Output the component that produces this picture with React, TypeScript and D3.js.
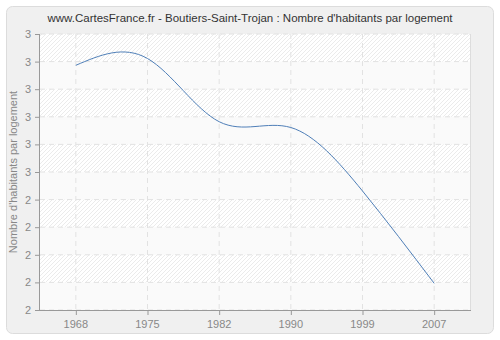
import React from "react";
import * as d3 from "d3";

const years = ["1968", "1975", "1982", "1990", "1999", "2007"];
const values = [2.8866, 2.9112, 2.6822, 2.6612, 2.4312, 2.0967];
const yDomain = [2, 3];
const yTickStep = 0.1;
const title = "www.CartesFrance.fr - Boutiers-Saint-Trojan : Nombre d'habitants par logement";
const yLabel = "Nombre d'habitants par logement";

const W = 500;
const H = 340;
const M = { left: 40, right: 30, top: 34, bottom: 30 };

export default function App() {
  const x = d3.scalePoint<string>().domain(years).range([M.left, W - M.right]).padding(0.5);
  const y = d3.scaleLinear().domain(yDomain).range([H - M.bottom, M.top]);
  const yTicks = d3.range(yDomain[0], yDomain[1] + yTickStep / 2, yTickStep).map((v) => +v.toFixed(2));
  const line = d3
    .line<number>()
    .x((_, i) => x(years[i]) as number)
    .y((d) => y(d))
    .curve(d3.curveNatural);
  const font = "'Liberation Sans', Arial, sans-serif";
  const x0 = M.left;
  const x1 = W - M.right;
  const yTop = M.top;
  const yBot = H - M.bottom;
  const bands = yTicks.slice(0, -1).map((v, i) => ({ v, v2: yTicks[i + 1], i }));
  return (
    <svg width={W} height={H} style={{ position: "absolute", left: 0, top: 0 }}>
      <defs>
        <pattern id="hatch" patternUnits="userSpaceOnUse" width="4" height="4">
          <rect width="4" height="4" fill="#ffffff" />
          <path d="M-1,1 l2,-2 M0,4 l4,-4 M3,5 l2,-2" stroke="#ebebeb" strokeWidth="1" />
        </pattern>
      </defs>
      <rect x={0} y={0} width={W} height={H} fill="#ffffff" />
      <rect x={6.5} y={6.5} width={487} height={327} rx={6} fill="#f0f0f0" stroke="#dcdcdc" />
      <text x={W / 2} y={22} textAnchor="middle" fontFamily={font} fontSize={11.5} fill="#333">
        {title}
      </text>
      <rect x={x0} y={yTop} width={x1 - x0} height={yBot - yTop} fill="#fafafa" />
      {bands.map((b) =>
        (yTicks.length - 2 - b.i) % 2 === 0 ? (
          <rect key={b.i} x={x0} y={y(b.v2)} width={x1 - x0} height={y(b.v) - y(b.v2)} fill="url(#hatch)" />
        ) : null
      )}
      {yTicks.map((v) => (
        <line key={"gy" + v} x1={x0} x2={x1} y1={y(v)} y2={y(v)} stroke="#e2e2e2" strokeDasharray="5,4" />
      ))}
      {years.map((yr) => (
        <line key={"gx" + yr} x1={x(yr)} x2={x(yr)} y1={yTop} y2={yBot} stroke="#e2e2e2" strokeDasharray="5,4" />
      ))}
      <line x1={x1 + 0.5} x2={x1 + 0.5} y1={yTop} y2={yBot} stroke="#dddddd" />
      <path d={line(values) || ""} fill="none" stroke="#4f7fb8" strokeWidth={1} />
      <line x1={x0 - 0.5} x2={x0 - 0.5} y1={yTop} y2={yBot + 0.5} stroke="#999" />
      <line x1={x0 - 0.5} x2={x1 + 1} y1={yBot + 0.5} y2={yBot + 0.5} stroke="#999" />
      {yTicks.map((v) => (
        <g key={"ty" + v}>
          <line x1={x0 - 5} x2={x0} y1={y(v) + 0.5} y2={y(v) + 0.5} stroke="#999" />
          <text x={x0 - 9} y={y(v) + 4} textAnchor="end" fontFamily={font} fontSize={11} fill="#888">
            {Math.round(v)}
          </text>
        </g>
      ))}
      {years.map((yr) => (
        <g key={"tx" + yr}>
          <line x1={(x(yr) as number) + 0.5} x2={(x(yr) as number) + 0.5} y1={yBot} y2={yBot + 5} stroke="#999" />
          <text x={x(yr)} y={yBot + 18} textAnchor="middle" fontFamily={font} fontSize={11} fill="#888">
            {yr}
          </text>
        </g>
      ))}
      <text
        transform={`translate(17,${(yTop + yBot) / 2}) rotate(-90)`}
        textAnchor="middle"
        fontFamily={font}
        fontSize={11}
        fill="#888"
      >
        {yLabel}
      </text>
    </svg>
  );
}
